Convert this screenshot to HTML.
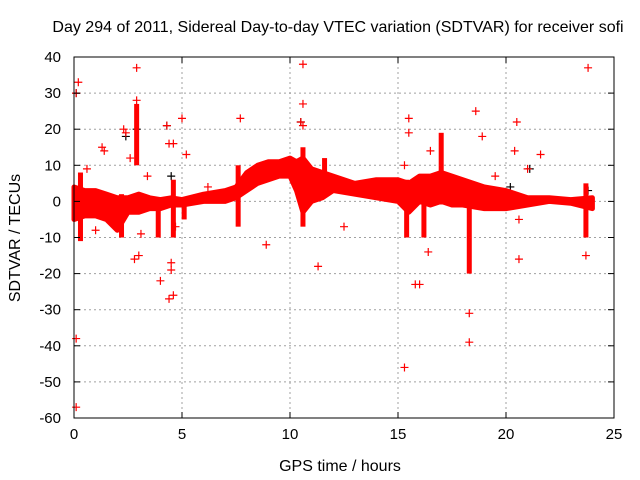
<!DOCTYPE html>
<html><head><meta charset="utf-8"><style>
html,body{margin:0;padding:0;background:#fff;}
svg{display:block;font-family:"Liberation Sans",sans-serif;}
</style></head><body>
<svg id="chart" width="640" height="480">
<text x="338" y="32" text-anchor="middle" font-size="16" fill="#000">Day 294 of 2011, Sidereal Day-to-day VTEC variation (SDTVAR) for receiver sofi</text>
<text x="340" y="471" text-anchor="middle" font-size="16" fill="#000">GPS time / hours</text>
<text transform="translate(20,238) rotate(-90)" text-anchor="middle" font-size="16" fill="#000">SDTVAR / TECUs</text>
<g id="grid"></g>
<g id="data"></g>
<g id="axes"></g>
</svg>
<script>
const xTicks=[0,5,10,15,20,25];
const yTicks=[40,30,20,10,0,-10,-20,-30,-40,-50,-60];
const bandT=[0,0.5,1,1.5,2,2.5,3,3.5,4,4.5,5,6,7,7.5,8,8.5,9,9.5,10,10.3,10.6,11,11.5,12,13,14,15,15.5,16,16.5,17,17.5,18,19,20,21,22,23,24];
const bandHi=[4,3,3,2,1,1,2,1,0.5,1,0.5,2,3,4,8,10,11,11,12,11,12,9,8,7,5,6,6,5,7,7,8,7,6,4,3,1,1,0.5,1];
const bandLo=[-5,-4,-4,-5,-8,-3,-3,-2,-2,-1,-1,0,0,1,3,5,6,7,7,3,-3,0,1,3,2,1,0,-3,0,-1,0,-1,-1,-2,-2,-1,0,-0.5,-2];
const spikeT=[0.3,2.2,2.9,3.9,4.6,5.1,7.6,10.6,11.6,15.4,16.2,17.0,18.3,23.7];
const spikeHi=[8,2,27,0,6,0,10,15,12,6,2,19,3,5];
const spikeLo=[-11,-10,10,-10,-10,-5,-7,-7,3,-10,-10,5,-20,-10];
const outT=[0.2,0.1,0.1,0.1,2.9,2.9,2.6,2.4,2.3,4.3,5.0,4.4,4.6,7.7,10.6,10.6,10.5,10.6,4.0,4.4,4.6,4.5,4.5,2.8,3.0,8.9,11.3,12.5,15.3,15.5,15.5,15.8,16.0,16.4,18.3,18.3,18.6,18.9,20.4,20.5,20.6,21.0,21.6,23.7,23.8,15.3,16.5,19.5,1.3,1.4,5.2,4.7,3.1,20.6,0.6,1.0,3.4,6.2,9.8];
const outV=[33,30,-38,-57,37,28,12,19,20,21,23,16,16,23,38,27,22,21,-22,-27,-26,-19,-17,-16,-15,-12,-18,-7,-46,23,19,-23,-23,-14,-31,-39,25,18,14,22,-16,9,13,-15,37,10,14,7,15,14,13,-7,-9,-5,9,-8,7,4,9];
const blackT=[0.1,2.4,2.9,4.3,4.5,10.5,20.2,21.1,23.8];
const blackV=[30,18,20,21,7,22,4,9,3];

const X0=74,X1=614,Y0=57,Y1=418;
const sx=t=>X0+(t-0)/(25)*(X1-X0);
const sy=v=>Y0+(40-v)/100*(Y1-Y0);
const NS="http://www.w3.org/2000/svg";
function mk(tag,attrs,parent){const e=document.createElementNS(NS,tag);for(const k in attrs)e.setAttribute(k,attrs[k]);parent.appendChild(e);return e;}
const grid=document.getElementById('grid'),data=document.getElementById('data'),axes=document.getElementById('axes');

xTicks.forEach(t=>{
  if(t>0&&t<25){const l=mk('line',{x1:sx(t),x2:sx(t),y1:Y0,y2:Y1,stroke:'#a0a0a0','stroke-dasharray':'2,3'},grid);
  
  }
  const tx=mk('text',{x:sx(t),y:Y1+21,'text-anchor':'middle','font-size':'15'},axes);tx.textContent=t;
  
  
  mk('line',{x1:sx(t),x2:sx(t),y1:Y1,y2:Y1-6,stroke:'#000'},axes);
  mk('line',{x1:sx(t),x2:sx(t),y1:Y0,y2:Y0+6,stroke:'#000'},axes);
});
yTicks.forEach(v=>{
  if(v<40&&v>-60){const l=mk('line',{x1:X0,x2:X1,y1:sy(v),y2:sy(v),stroke:'#a0a0a0','stroke-dasharray':'2,3'},grid);
  
  }
  const tx=mk('text',{x:X0-13,y:sy(v)+5,'text-anchor':'end','font-size':'15'},axes);tx.textContent=v;
  
  
  mk('line',{x1:X0,x2:X0+6,y1:sy(v),y2:sy(v),stroke:'#000'},axes);
  mk('line',{x1:X1,x2:X1-6,y1:sy(v),y2:sy(v),stroke:'#000'},axes);
});
const fr=mk('rect',{x:X0,y:Y0,width:X1-X0,height:Y1-Y0,fill:'none',stroke:'#000'},axes);



function plus(t,v,col){const x=sx(t),y=sy(v);
  const p=mk('path',{d:`M${x-4},${y}H${x+4}M${x},${y-4}V${y+4}`,stroke:col,'stroke-width':'1.2',fill:'none'},data);
  return p;}
blackT.forEach((t,i)=>{const p=plus(t,blackV[i],'#000');
  
  });
let d='M'+bandT.map((t,i)=>sx(t)+','+sy(bandHi[i])).join('L');
for(let i=bandT.length-1;i>=0;i--)d+='L'+sx(bandT[i])+','+sy(bandLo[i]);
const band=mk('path',{d:d+'Z',fill:'#ff0000',stroke:'#ff0000','stroke-width':'5','stroke-linejoin':'round'},data);


spikeT.forEach((t,i)=>{const r=mk('rect',{x:sx(t)-2.5,y:sy(spikeHi[i]),width:5,height:sy(spikeLo[i])-sy(spikeHi[i]),fill:'#ff0000'},data);
  
  });
outT.forEach((t,i)=>{const p=plus(t,outV[i],'#ff0000');
  
  });
</script>
</body></html>
